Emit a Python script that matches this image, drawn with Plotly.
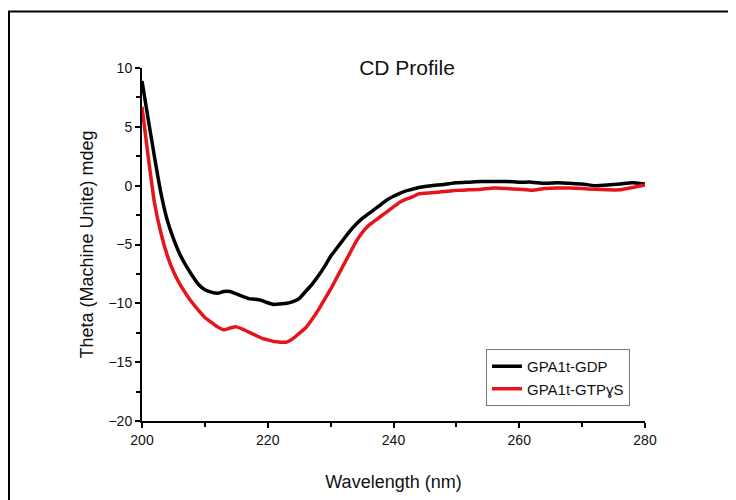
import plotly.graph_objects as go

wavelength = [200, 201, 202, 203, 204, 205, 206, 207, 208, 209, 210, 211, 212, 213, 214, 215,
              216, 217, 218, 219, 220, 221, 222, 223, 224, 225, 226, 227, 228, 229, 230, 231,
              232, 233, 234, 235, 236, 237, 238, 239, 240, 241, 242, 243, 244, 246, 248, 250,
              252, 254, 256, 258, 260, 262, 264, 266, 268, 270, 272, 274, 276, 278, 280]

gdp = [8.9, 5.6, 2.4, -0.6, -2.9, -4.5, -5.8, -6.8, -7.65, -8.4, -8.85, -9.05, -9.15, -9.0, -9.0, -9.2,
       -9.4, -9.6, -9.65, -9.75, -9.95, -10.1, -10.05, -10.0, -9.85, -9.6, -9.0, -8.4, -7.7, -6.9, -6.0, -5.3,
       -4.6, -3.9, -3.3, -2.8, -2.4, -2.0, -1.6, -1.2, -0.9, -0.65, -0.45, -0.3, -0.15, 0.0, 0.1, 0.25,
       0.3, 0.35, 0.35, 0.35, 0.3, 0.3, 0.2, 0.25, 0.2, 0.15, 0.0, 0.05, 0.15, 0.25, 0.15]

gtpys = [6.7, 2.4, -1.5, -4.0, -5.9, -7.3, -8.35, -9.2, -9.95, -10.6, -11.2, -11.6, -12.0, -12.25, -12.1, -12.0,
         -12.2, -12.45, -12.7, -12.95, -13.1, -13.25, -13.3, -13.3, -13.0, -12.55, -12.1, -11.4, -10.6, -9.7, -8.8, -7.8,
         -6.8, -5.8, -4.8, -4.0, -3.4, -3.0, -2.6, -2.2, -1.8, -1.4, -1.15, -0.95, -0.7, -0.6, -0.5, -0.4,
         -0.35, -0.3, -0.2, -0.25, -0.3, -0.4, -0.25, -0.2, -0.2, -0.25, -0.3, -0.35, -0.35, -0.15, 0.05]

series_names = ["GPA1t-GDP", "GPA1t-GTPɣS"]
x_ticks = [200, 220, 240, 260, 280]
y_ticks = [-20, -15, -10, -5, 0, 5, 10]

FONT = "Liberation Sans, Arial, sans-serif"
TXT = "#111111"

fig = go.Figure()
fig.add_trace(go.Scatter(x=wavelength, y=gdp, mode="lines", name=series_names[0],
                         line=dict(color="#000000", width=3.5, shape="spline", smoothing=0.4)))
fig.add_trace(go.Scatter(x=wavelength, y=gtpys, mode="lines", name=series_names[1],
                         line=dict(color="#e8141b", width=3.5, shape="spline", smoothing=0.4)))

# page body adds an 8px offset; figure coordinates = screen - 8
fig.update_layout(
    width=736, height=500,
    margin=dict(l=134, r=99, t=60, b=87),
    paper_bgcolor="white", plot_bgcolor="white",
    font=dict(family=FONT, color=TXT),
    title=dict(text="CD Profile", x=399 / 736, xanchor="center", y=1 - 60 / 500, yanchor="middle",
               font=dict(size=21, family=FONT, color=TXT)),
    showlegend=True,
    legend=dict(x=(486 - 142) / 503, y=(421 - 349) / 353, xanchor="left", yanchor="top",
                bgcolor="white", bordercolor="#777777", borderwidth=1,
                font=dict(size=15, family=FONT, color=TXT),
                tracegroupgap=0, itemwidth=30),
    xaxis=dict(range=[200, 280], tickvals=x_ticks, showgrid=False, zeroline=False,
               showline=True, linecolor="black", linewidth=2,
               ticks="outside", ticklen=5, tickwidth=1.5, tickcolor="black",
               minor=dict(dtick=10, ticks="outside", ticklen=4, tickwidth=1.5, tickcolor="black", showgrid=False),
               tickfont=dict(size=14, family=FONT, color=TXT),
               title=dict(text="Wavelength (nm)", font=dict(size=18, family=FONT, color=TXT), standoff=29)),
    yaxis=dict(range=[-20, 10], tickvals=y_ticks, showgrid=False, zeroline=False,
               showline=True, linecolor="black", linewidth=2,
               ticks="outside", ticklen=5, tickwidth=1.5, tickcolor="black",
               minor=dict(dtick=2.5, ticks="outside", ticklen=4, tickwidth=1.5, tickcolor="black", showgrid=False),
               tickfont=dict(size=14, family=FONT, color=TXT),
               title=dict(text="Theta (Machine Unite) mdeg", font=dict(size=18, family=FONT, color=TXT), standoff=10)),
)

# outer frame of the figure
fig.add_shape(type="rect", xref="paper", yref="paper",
              x0=(9 - 142) / 503, x1=(750 - 142) / 503,
              y0=(421 - 515) / 353, y1=(421 - 11.5) / 353,
              line=dict(color="black", width=2), fillcolor="rgba(0,0,0,0)", layer="below")

fig.write_html("out.html")
